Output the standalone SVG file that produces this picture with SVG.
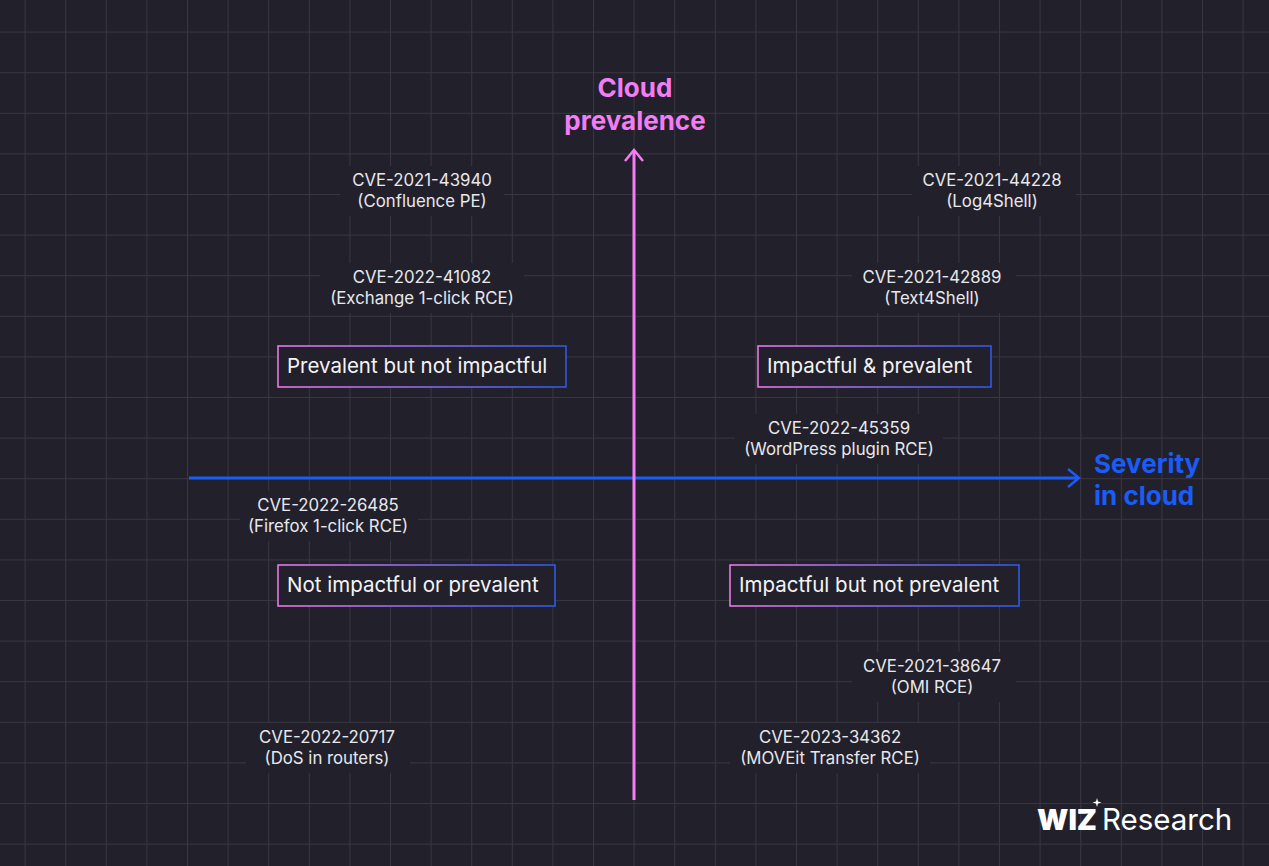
<svg xmlns="http://www.w3.org/2000/svg" width="1269" height="866" viewBox="0 0 1269 866">
<defs>
<pattern id="grid" x="-16" y="-9" width="40.6" height="40.6" patternUnits="userSpaceOnUse">
<path d="M0.5 0V40.6M0 0.5H40.6" stroke="#373641" stroke-width="1" fill="none"/>
</pattern>
<linearGradient id="bd" x1="0" y1="0" x2="1" y2="0"><stop offset="0" stop-color="#f47cf2"/><stop offset="1" stop-color="#2d5cf0"/></linearGradient>
<style>
.cve{font-family:"Inter","Liberation Sans",sans-serif;font-size:16.8px;fill:#e8e8ec;text-anchor:middle}
.bx{font-family:"Inter","Liberation Sans",sans-serif;font-size:20.5px;fill:#f4f4f6}
.box{fill:#22212b;stroke:url(#bd);stroke-width:1.5}
.mask{fill:#22212b}
.ax{font-family:"Inter","Liberation Sans",sans-serif;font-size:26px;font-weight:bold}
</style>
</defs>
<rect width="1269" height="866" fill="#22212b"/>
<rect width="1269" height="866" fill="url(#grid)"/>
<g id="connectors">
<line x1="189" y1="478" x2="1077" y2="478" stroke="#1a5cf5" stroke-width="3"/>
<path d="M1068 469L1079 478L1068 487" fill="none" stroke="#1a5cf5" stroke-width="2.5"/>
<line x1="634" y1="800" x2="634" y2="152" stroke="#f47cf5" stroke-width="3"/>
<path d="M625 161L634 150L643 161" fill="none" stroke="#f47cf5" stroke-width="2.5"/>
</g>
<g id="axis-y"><text class="ax" fill="#f47cf5" text-anchor="middle"><tspan x="635" y="97">Cloud</tspan><tspan x="635" y="130">prevalence</tspan></text></g>
<g id="axis-x"><text class="ax" fill="#1a5cf5"><tspan x="1094" y="473">Severity</tspan><tspan x="1094" y="505">in cloud</tspan></text></g>
<g id="q1"><rect class="box" x="278" y="346" width="288" height="41"/><text class="bx" x="287" y="373">Prevalent but not impactful</text></g>
<g id="q2"><rect class="box" x="758" y="346" width="233" height="41"/><text class="bx" x="767" y="373">Impactful &amp; prevalent</text></g>
<g id="q3"><rect class="box" x="278" y="565" width="277" height="41"/><text class="bx" x="287" y="592">Not impactful or prevalent</text></g>
<g id="q4"><rect class="box" x="730" y="565" width="289" height="41"/><text class="bx" x="739" y="592">Impactful but not prevalent</text></g>
<g id="c1"><rect class="mask" x="340" y="166" width="164" height="50"/><text class="cve"><tspan x="422" y="186">CVE-2021-43940</tspan><tspan x="422" y="207">(Confluence PE)</tspan></text></g>
<g id="c2"><rect class="mask" x="912" y="166" width="164" height="50"/><text class="cve"><tspan x="992" y="186">CVE-2021-44228</tspan><tspan x="992" y="207">(Log4Shell)</tspan></text></g>
<g id="c3"><rect class="mask" x="320" y="263" width="204" height="50"/><text class="cve"><tspan x="422" y="283">CVE-2022-41082</tspan><tspan x="422" y="304">(Exchange 1-click RCE)</tspan></text></g>
<g id="c4"><rect class="mask" x="852" y="263" width="164" height="50"/><text class="cve"><tspan x="932" y="283">CVE-2021-42889</tspan><tspan x="932" y="304">(Text4Shell)</tspan></text></g>
<g id="c5"><rect class="mask" x="735" y="414" width="208" height="50"/><text class="cve"><tspan x="839" y="434">CVE-2022-45359</tspan><tspan x="839" y="455">(WordPress plugin RCE)</tspan></text></g>
<g id="c6"><rect class="mask" x="240" y="491" width="178" height="50"/><text class="cve"><tspan x="328" y="511">CVE-2022-26485</tspan><tspan x="328" y="532">(Firefox 1-click RCE)</tspan></text></g>
<g id="c7"><rect class="mask" x="852" y="652" width="164" height="50"/><text class="cve"><tspan x="932" y="672">CVE-2021-38647</tspan><tspan x="932" y="693">(OMI RCE)</tspan></text></g>
<g id="c8"><rect class="mask" x="246" y="723" width="164" height="50"/><text class="cve"><tspan x="327" y="743">CVE-2022-20717</tspan><tspan x="327" y="764">(DoS in routers)</tspan></text></g>
<g id="c9"><rect class="mask" x="730" y="723" width="200" height="50"/><text class="cve"><tspan x="830" y="743">CVE-2023-34362</tspan><tspan x="830" y="764">(MOVEit Transfer RCE)</tspan></text></g>
<g id="logo">
<text x="1037" y="830" font-family="Inter,'Liberation Sans',sans-serif" font-size="29" font-weight="900" fill="#ffffff">WIZ</text>
<path d="M1097 798l1 3.5 3.5 1-3.5 1-1 3.5-1-3.5-3.5-1 3.5-1z" fill="#ffffff"/>
<text x="1102" y="830" font-family="Inter,'Liberation Sans',sans-serif" font-size="29.5" fill="#ffffff">Research</text>
</g>
</svg>
